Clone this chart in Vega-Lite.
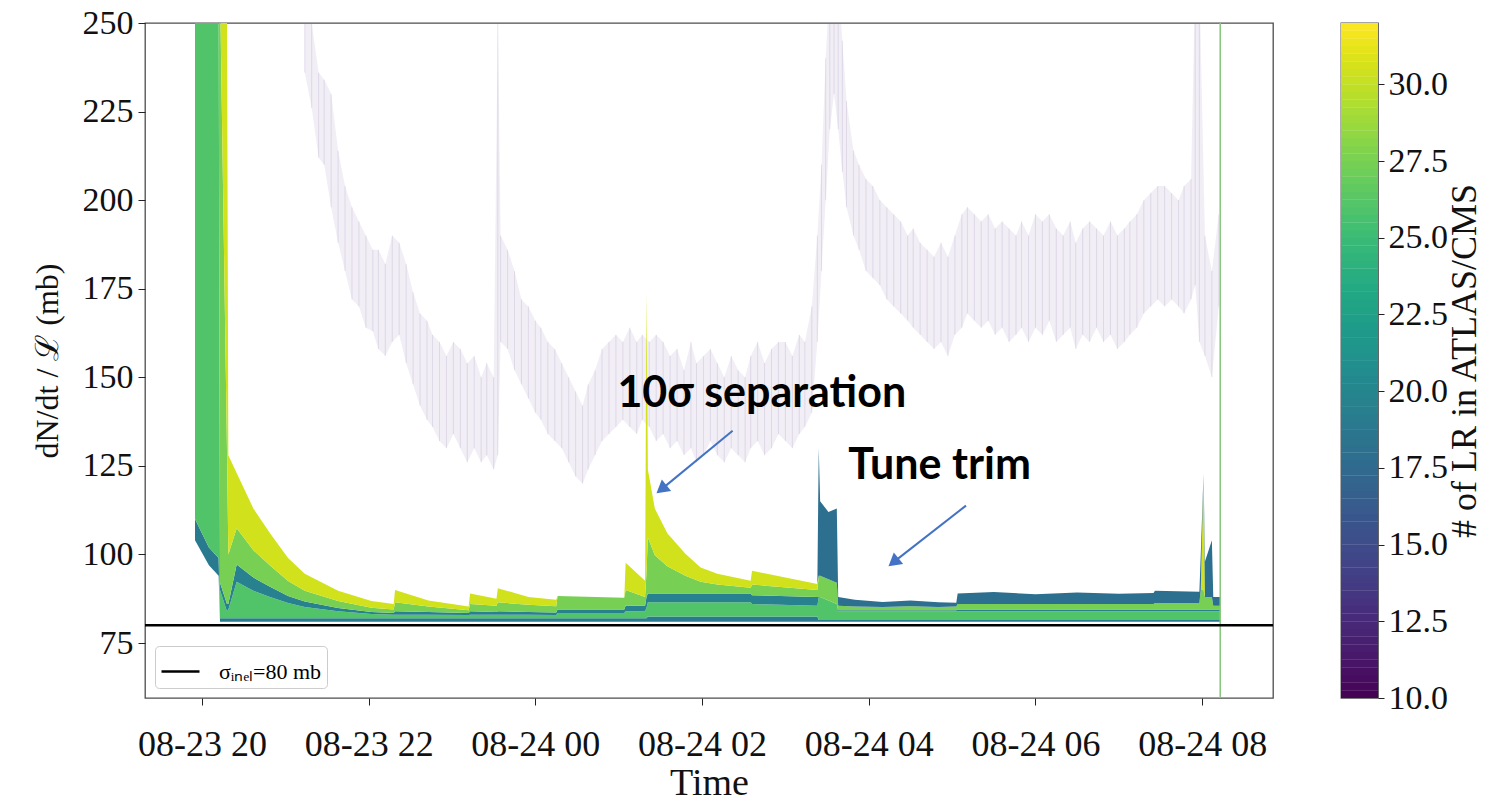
{
  "$schema": "https://vega.github.io/schema/vega-lite/v6.json",
  "background": "white",
  "padding": {"left": 30, "top": 5, "right": 0, "bottom": 0},
  "bounds": "flush",
  "spacing": 68,
  "config": {
    "view": {"stroke": "#4d4d4d", "strokeWidth": 1.3},
    "font": "Liberation Serif",
    "axis": {"grid": false, "domain": false, "tickColor": "#222222", "labelColor": "#111111", "titleColor": "#111111", "labelFont": "Liberation Serif", "titleFont": "Liberation Serif", "titleFontWeight": "normal"}
  },
  "datasets": {
    "band": [
      {"t":"2021-08-23T19:55Z","y0":104,"y1":110,"y2":260,"y3":260,"y4":260,"y5":260,"y6":260},
      {"t":"2021-08-23T20:05Z","y0":97,"y1":102,"y2":260,"y3":260,"y4":260,"y5":260,"y6":260},
      {"t":"2021-08-23T20:12Z","y0":94,"y1":99,"y2":260,"y3":260,"y4":260,"y5":260,"y6":260},
      {"t":"2021-08-23T20:13Z","y0":81,"y1":82,"y2":90,"y3":92,"y4":260,"y5":260,"y6":260},
      {"t":"2021-08-23T20:18Z","y0":81,"y1":82,"y2":84,"y3":86,"y4":130,"y5":260,"y6":260},
      {"t":"2021-08-23T20:19Z","y0":81,"y1":82,"y2":84.5,"y3":86,"y4":100,"y5":128,"y6":128},
      {"t":"2021-08-23T20:25Z","y0":81,"y1":82,"y2":92.3,"y3":97.2,"y4":107.4,"y5":123,"y6":123},
      {"t":"2021-08-23T20:37Z","y0":81,"y1":82,"y2":89.8,"y3":93.5,"y4":101.2,"y5":113,"y6":113},
      {"t":"2021-08-23T20:49Z","y0":81,"y1":82,"y2":88,"y3":90.9,"y4":96.9,"y5":106,"y6":106},
      {"t":"2021-08-23T21:02Z","y0":81,"y1":82,"y2":86.3,"y3":88.3,"y4":92.5,"y5":99,"y6":99},
      {"t":"2021-08-23T21:14Z","y0":81,"y1":82,"y2":85.2,"y3":86.7,"y4":89.8,"y5":94.6,"y6":94.6},
      {"t":"2021-08-23T21:38Z","y0":81,"y1":82,"y2":84,"y3":84.9,"y4":86.9,"y5":89.8,"y6":89.8},
      {"t":"2021-08-23T22:02Z","y0":81,"y1":82,"y2":83.2,"y3":83.8,"y4":85,"y5":86.9,"y6":86.9},
      {"t":"2021-08-23T22:18Z","y0":81,"y1":82,"y2":83,"y3":83.5,"y4":84.5,"y5":86,"y6":86},
      {"t":"2021-08-23T22:19Z","y0":81,"y1":82,"y2":83,"y3":84,"y4":86.5,"y5":90,"y6":90},
      {"t":"2021-08-23T22:43Z","y0":81,"y1":82,"y2":83,"y3":83.8,"y4":85.3,"y5":87,"y6":87},
      {"t":"2021-08-23T23:12Z","y0":81,"y1":82,"y2":82.9,"y3":83.5,"y4":84.3,"y5":85.3,"y6":85.3},
      {"t":"2021-08-23T23:13Z","y0":81,"y1":82,"y2":83,"y3":84,"y4":86,"y5":89,"y6":89},
      {"t":"2021-08-23T23:32Z","y0":81,"y1":82,"y2":83,"y3":83.8,"y4":85.5,"y5":87.5,"y6":87.5},
      {"t":"2021-08-23T23:33Z","y0":81,"y1":82,"y2":83,"y3":84,"y4":86.5,"y5":90.5,"y6":90.5},
      {"t":"2021-08-23T23:55Z","y0":81,"y1":82,"y2":83,"y3":83.8,"y4":85.8,"y5":88,"y6":88},
      {"t":"2021-08-24T00:15Z","y0":81,"y1":82,"y2":82.9,"y3":83.6,"y4":85.4,"y5":87.2,"y6":87.2},
      {"t":"2021-08-24T00:16Z","y0":81,"y1":82,"y2":83.5,"y3":84.5,"y4":88.3,"y5":88.3,"y6":88.3},
      {"t":"2021-08-24T01:04Z","y0":81,"y1":82,"y2":83.5,"y3":84.5,"y4":87.8,"y5":87.8,"y6":87.8},
      {"t":"2021-08-24T01:05Z","y0":81,"y1":82,"y2":84,"y3":85.5,"y4":90,"y5":97.7,"y6":97.7},
      {"t":"2021-08-24T01:19Z","y0":81,"y1":82,"y2":84,"y3":85.5,"y4":88,"y5":92.6,"y6":92.6},
      {"t":"2021-08-24T01:20Z","y0":81,"y1":82,"y2":85,"y3":88,"y4":95,"y5":174,"y6":174},
      {"t":"2021-08-24T01:21Z","y0":81,"y1":82.5,"y2":86.5,"y3":89,"y4":104.8,"y5":124,"y6":124},
      {"t":"2021-08-24T01:26Z","y0":81,"y1":82.5,"y2":86.5,"y3":89,"y4":99.8,"y5":113,"y6":113},
      {"t":"2021-08-24T01:35Z","y0":81,"y1":82.5,"y2":86.5,"y3":89,"y4":96.7,"y5":106,"y6":106},
      {"t":"2021-08-24T01:48Z","y0":81,"y1":82.5,"y2":86.5,"y3":89,"y4":94,"y5":100.2,"y6":100.2},
      {"t":"2021-08-24T01:59Z","y0":81,"y1":82.5,"y2":86.5,"y3":89,"y4":92.3,"y5":96.3,"y6":96.3},
      {"t":"2021-08-24T02:11Z","y0":81,"y1":82.5,"y2":86.5,"y3":89,"y4":91.5,"y5":94.6,"y6":94.6},
      {"t":"2021-08-24T02:35Z","y0":81,"y1":82.5,"y2":86.5,"y3":89,"y4":90.6,"y5":92.6,"y6":92.6},
      {"t":"2021-08-24T02:36Z","y0":81,"y1":82.5,"y2":86,"y3":88.5,"y4":91.5,"y5":95.4,"y6":95.4},
      {"t":"2021-08-24T03:23Z","y0":81,"y1":82.5,"y2":85.5,"y3":88,"y4":90,"y5":91.7,"y6":91.7},
      {"t":"2021-08-24T03:24Z","y0":81,"y1":81.5,"y2":88,"y3":88,"y4":94,"y5":94,"y6":130},
      {"t":"2021-08-24T03:25Z","y0":81,"y1":81.5,"y2":88,"y3":88,"y4":94,"y5":94,"y6":115},
      {"t":"2021-08-24T03:31Z","y0":81,"y1":81.5,"y2":87,"y3":87,"y4":93,"y5":93,"y6":112},
      {"t":"2021-08-24T03:37Z","y0":81,"y1":81.5,"y2":86,"y3":86,"y4":92,"y5":92,"y6":113},
      {"t":"2021-08-24T03:38Z","y0":81,"y1":81.5,"y2":84,"y3":84.3,"y4":85.5,"y5":85.5,"y6":88},
      {"t":"2021-08-24T03:50Z","y0":81,"y1":81.5,"y2":84,"y3":84.3,"y4":85.3,"y5":85.3,"y6":87.2},
      {"t":"2021-08-24T04:10Z","y0":81,"y1":81.5,"y2":84,"y3":84.3,"y4":85.2,"y5":85.2,"y6":86.6},
      {"t":"2021-08-24T04:30Z","y0":81,"y1":81.5,"y2":84,"y3":84.3,"y4":85.4,"y5":85.4,"y6":87},
      {"t":"2021-08-24T04:50Z","y0":81,"y1":81.5,"y2":84,"y3":84.3,"y4":85.2,"y5":85.2,"y6":86.5},
      {"t":"2021-08-24T05:03Z","y0":81,"y1":81.5,"y2":84,"y3":84.3,"y4":85.3,"y5":85.3,"y6":86.4},
      {"t":"2021-08-24T05:04Z","y0":81,"y1":81.5,"y2":84,"y3":84.5,"y4":86,"y5":86,"y6":89},
      {"t":"2021-08-24T05:30Z","y0":81,"y1":81.5,"y2":84,"y3":84.5,"y4":86,"y5":86,"y6":89.4},
      {"t":"2021-08-24T06:00Z","y0":81,"y1":81.5,"y2":84,"y3":84.5,"y4":86,"y5":86,"y6":88.8},
      {"t":"2021-08-24T06:30Z","y0":81,"y1":81.5,"y2":84,"y3":84.5,"y4":86,"y5":86,"y6":89.3},
      {"t":"2021-08-24T07:00Z","y0":81,"y1":81.5,"y2":84,"y3":84.5,"y4":86,"y5":86,"y6":88.9},
      {"t":"2021-08-24T07:25Z","y0":81,"y1":81.5,"y2":84,"y3":84.5,"y4":86,"y5":86,"y6":89.1},
      {"t":"2021-08-24T07:26Z","y0":81,"y1":81.5,"y2":84,"y3":84.5,"y4":86.3,"y5":86.3,"y6":89.8},
      {"t":"2021-08-24T07:58Z","y0":81,"y1":81.5,"y2":84,"y3":84.5,"y4":86.3,"y5":86.3,"y6":89.5},
      {"t":"2021-08-24T07:59Z","y0":81,"y1":81.5,"y2":84,"y3":84.5,"y4":90,"y5":90,"y6":100},
      {"t":"2021-08-24T08:01Z","y0":81,"y1":81.5,"y2":84,"y3":84.5,"y4":90,"y5":123,"y6":123},
      {"t":"2021-08-24T08:02Z","y0":81,"y1":81.5,"y2":84,"y3":84.5,"y4":88,"y5":88,"y6":98},
      {"t":"2021-08-24T08:07Z","y0":81,"y1":81.5,"y2":84,"y3":84.5,"y4":88,"y5":88,"y6":104},
      {"t":"2021-08-24T08:08Z","y0":81,"y1":81.5,"y2":84,"y3":84.5,"y4":85.5,"y5":85.5,"y6":88},
      {"t":"2021-08-24T08:13Z","y0":81,"y1":81.5,"y2":84,"y3":84.5,"y4":85.5,"y5":85.5,"y6":88}
    ],
    "pur": [
      {"t":"2021-08-23T21:14Z","lo":236,"hi":262},
      {"t":"2021-08-23T21:19Z","lo":226,"hi":250},
      {"t":"2021-08-23T21:24Z","lo":212,"hi":236},
      {"t":"2021-08-23T21:28Z","lo":210,"hi":234},
      {"t":"2021-08-23T21:33Z","lo":198,"hi":230},
      {"t":"2021-08-23T21:38Z","lo":188,"hi":214},
      {"t":"2021-08-23T21:43Z","lo":180,"hi":204},
      {"t":"2021-08-23T21:48Z","lo":172,"hi":198},
      {"t":"2021-08-23T21:53Z","lo":170,"hi":194},
      {"t":"2021-08-23T21:58Z","lo":164,"hi":190},
      {"t":"2021-08-23T22:03Z","lo":163,"hi":186},
      {"t":"2021-08-23T22:07Z","lo":158,"hi":186},
      {"t":"2021-08-23T22:12Z","lo":156,"hi":182},
      {"t":"2021-08-23T22:17Z","lo":160,"hi":190},
      {"t":"2021-08-23T22:22Z","lo":162,"hi":188},
      {"t":"2021-08-23T22:27Z","lo":154,"hi":182},
      {"t":"2021-08-23T22:32Z","lo":148,"hi":174},
      {"t":"2021-08-23T22:37Z","lo":142,"hi":168},
      {"t":"2021-08-23T22:42Z","lo":138,"hi":166},
      {"t":"2021-08-23T22:46Z","lo":136,"hi":162},
      {"t":"2021-08-23T22:51Z","lo":132,"hi":160},
      {"t":"2021-08-23T22:56Z","lo":130,"hi":156},
      {"t":"2021-08-23T23:01Z","lo":134,"hi":160},
      {"t":"2021-08-23T23:06Z","lo":130,"hi":158},
      {"t":"2021-08-23T23:11Z","lo":126,"hi":154},
      {"t":"2021-08-23T23:16Z","lo":130,"hi":156},
      {"t":"2021-08-23T23:21Z","lo":126,"hi":150},
      {"t":"2021-08-23T23:25Z","lo":128,"hi":154},
      {"t":"2021-08-23T23:30Z","lo":124,"hi":150},
      {"t":"2021-08-23T23:33Z","lo":128,"hi":250},
      {"t":"2021-08-23T23:35Z","lo":160,"hi":190},
      {"t":"2021-08-23T23:40Z","lo":158,"hi":186},
      {"t":"2021-08-23T23:45Z","lo":152,"hi":180},
      {"t":"2021-08-23T23:50Z","lo":148,"hi":172},
      {"t":"2021-08-23T23:55Z","lo":144,"hi":170},
      {"t":"2021-08-24T00:00Z","lo":140,"hi":166},
      {"t":"2021-08-24T00:04Z","lo":138,"hi":164},
      {"t":"2021-08-24T00:09Z","lo":134,"hi":160},
      {"t":"2021-08-24T00:14Z","lo":132,"hi":158},
      {"t":"2021-08-24T00:19Z","lo":130,"hi":154},
      {"t":"2021-08-24T00:24Z","lo":126,"hi":150},
      {"t":"2021-08-24T00:29Z","lo":122,"hi":146},
      {"t":"2021-08-24T00:34Z","lo":120,"hi":142},
      {"t":"2021-08-24T00:38Z","lo":124,"hi":148},
      {"t":"2021-08-24T00:43Z","lo":128,"hi":152},
      {"t":"2021-08-24T00:48Z","lo":132,"hi":158},
      {"t":"2021-08-24T00:53Z","lo":134,"hi":160},
      {"t":"2021-08-24T00:58Z","lo":136,"hi":162},
      {"t":"2021-08-24T01:03Z","lo":138,"hi":160},
      {"t":"2021-08-24T01:08Z","lo":136,"hi":164},
      {"t":"2021-08-24T01:13Z","lo":134,"hi":160},
      {"t":"2021-08-24T01:17Z","lo":138,"hi":162},
      {"t":"2021-08-24T01:22Z","lo":136,"hi":160},
      {"t":"2021-08-24T01:27Z","lo":132,"hi":162},
      {"t":"2021-08-24T01:32Z","lo":134,"hi":160},
      {"t":"2021-08-24T01:37Z","lo":130,"hi":156},
      {"t":"2021-08-24T01:42Z","lo":132,"hi":158},
      {"t":"2021-08-24T01:47Z","lo":128,"hi":152},
      {"t":"2021-08-24T01:52Z","lo":130,"hi":160},
      {"t":"2021-08-24T01:56Z","lo":126,"hi":154},
      {"t":"2021-08-24T02:01Z","lo":128,"hi":156},
      {"t":"2021-08-24T02:06Z","lo":132,"hi":158},
      {"t":"2021-08-24T02:11Z","lo":128,"hi":154},
      {"t":"2021-08-24T02:16Z","lo":126,"hi":150},
      {"t":"2021-08-24T02:21Z","lo":130,"hi":156},
      {"t":"2021-08-24T02:26Z","lo":128,"hi":152},
      {"t":"2021-08-24T02:31Z","lo":126,"hi":150},
      {"t":"2021-08-24T02:35Z","lo":130,"hi":156},
      {"t":"2021-08-24T02:40Z","lo":132,"hi":160},
      {"t":"2021-08-24T02:45Z","lo":128,"hi":154},
      {"t":"2021-08-24T02:50Z","lo":130,"hi":158},
      {"t":"2021-08-24T02:55Z","lo":134,"hi":160},
      {"t":"2021-08-24T03:00Z","lo":132,"hi":160},
      {"t":"2021-08-24T03:05Z","lo":130,"hi":156},
      {"t":"2021-08-24T03:10Z","lo":134,"hi":162},
      {"t":"2021-08-24T03:14Z","lo":136,"hi":160},
      {"t":"2021-08-24T03:19Z","lo":140,"hi":170},
      {"t":"2021-08-24T03:23Z","lo":160,"hi":190},
      {"t":"2021-08-24T03:26Z","lo":180,"hi":210},
      {"t":"2021-08-24T03:29Z","lo":200,"hi":240},
      {"t":"2021-08-24T03:32Z","lo":220,"hi":262},
      {"t":"2021-08-24T03:35Z","lo":230,"hi":262},
      {"t":"2021-08-24T03:38Z","lo":220,"hi":262},
      {"t":"2021-08-24T03:41Z","lo":208,"hi":245},
      {"t":"2021-08-24T03:44Z","lo":198,"hi":228},
      {"t":"2021-08-24T03:49Z","lo":190,"hi":214},
      {"t":"2021-08-24T03:53Z","lo":186,"hi":210},
      {"t":"2021-08-24T03:58Z","lo":180,"hi":206},
      {"t":"2021-08-24T04:03Z","lo":178,"hi":204},
      {"t":"2021-08-24T04:08Z","lo":176,"hi":200},
      {"t":"2021-08-24T04:13Z","lo":172,"hi":198},
      {"t":"2021-08-24T04:18Z","lo":170,"hi":196},
      {"t":"2021-08-24T04:23Z","lo":168,"hi":194},
      {"t":"2021-08-24T04:28Z","lo":166,"hi":190},
      {"t":"2021-08-24T04:32Z","lo":164,"hi":192},
      {"t":"2021-08-24T04:37Z","lo":162,"hi":188},
      {"t":"2021-08-24T04:42Z","lo":160,"hi":186},
      {"t":"2021-08-24T04:47Z","lo":158,"hi":184},
      {"t":"2021-08-24T04:52Z","lo":160,"hi":188},
      {"t":"2021-08-24T04:57Z","lo":156,"hi":184},
      {"t":"2021-08-24T05:02Z","lo":162,"hi":190},
      {"t":"2021-08-24T05:07Z","lo":164,"hi":196},
      {"t":"2021-08-24T05:11Z","lo":168,"hi":198},
      {"t":"2021-08-24T05:16Z","lo":166,"hi":196},
      {"t":"2021-08-24T05:21Z","lo":164,"hi":194},
      {"t":"2021-08-24T05:26Z","lo":166,"hi":196},
      {"t":"2021-08-24T05:31Z","lo":162,"hi":192},
      {"t":"2021-08-24T05:36Z","lo":164,"hi":194},
      {"t":"2021-08-24T05:41Z","lo":160,"hi":192},
      {"t":"2021-08-24T05:46Z","lo":162,"hi":190},
      {"t":"2021-08-24T05:50Z","lo":164,"hi":194},
      {"t":"2021-08-24T05:55Z","lo":160,"hi":190},
      {"t":"2021-08-24T06:00Z","lo":164,"hi":196},
      {"t":"2021-08-24T06:05Z","lo":162,"hi":194},
      {"t":"2021-08-24T06:10Z","lo":166,"hi":196},
      {"t":"2021-08-24T06:15Z","lo":160,"hi":192},
      {"t":"2021-08-24T06:20Z","lo":162,"hi":190},
      {"t":"2021-08-24T06:25Z","lo":164,"hi":194},
      {"t":"2021-08-24T06:29Z","lo":158,"hi":188},
      {"t":"2021-08-24T06:34Z","lo":162,"hi":192},
      {"t":"2021-08-24T06:39Z","lo":160,"hi":194},
      {"t":"2021-08-24T06:44Z","lo":164,"hi":192},
      {"t":"2021-08-24T06:49Z","lo":160,"hi":190},
      {"t":"2021-08-24T06:54Z","lo":162,"hi":194},
      {"t":"2021-08-24T06:59Z","lo":158,"hi":190},
      {"t":"2021-08-24T07:04Z","lo":160,"hi":192},
      {"t":"2021-08-24T07:08Z","lo":162,"hi":194},
      {"t":"2021-08-24T07:13Z","lo":164,"hi":196},
      {"t":"2021-08-24T07:18Z","lo":168,"hi":200},
      {"t":"2021-08-24T07:23Z","lo":170,"hi":202},
      {"t":"2021-08-24T07:28Z","lo":172,"hi":204},
      {"t":"2021-08-24T07:33Z","lo":170,"hi":204},
      {"t":"2021-08-24T07:38Z","lo":172,"hi":202},
      {"t":"2021-08-24T07:43Z","lo":170,"hi":200},
      {"t":"2021-08-24T07:47Z","lo":168,"hi":204},
      {"t":"2021-08-24T07:52Z","lo":172,"hi":206},
      {"t":"2021-08-24T07:55Z","lo":176,"hi":262},
      {"t":"2021-08-24T07:58Z","lo":160,"hi":262},
      {"t":"2021-08-24T08:02Z","lo":156,"hi":190},
      {"t":"2021-08-24T08:07Z","lo":150,"hi":180},
      {"t":"2021-08-24T08:12Z","lo":170,"hi":196}
    ],
    "cbar": [
      {"v":10.125},{"v":10.375},{"v":10.625},{"v":10.875},{"v":11.125},{"v":11.375},{"v":11.625},{"v":11.875},
      {"v":12.125},{"v":12.375},{"v":12.625},{"v":12.875},{"v":13.125},{"v":13.375},{"v":13.625},{"v":13.875},
      {"v":14.125},{"v":14.375},{"v":14.625},{"v":14.875},{"v":15.125},{"v":15.375},{"v":15.625},{"v":15.875},
      {"v":16.125},{"v":16.375},{"v":16.625},{"v":16.875},{"v":17.125},{"v":17.375},{"v":17.625},{"v":17.875},
      {"v":18.125},{"v":18.375},{"v":18.625},{"v":18.875},{"v":19.125},{"v":19.375},{"v":19.625},{"v":19.875},
      {"v":20.125},{"v":20.375},{"v":20.625},{"v":20.875},{"v":21.125},{"v":21.375},{"v":21.625},{"v":21.875},
      {"v":22.125},{"v":22.375},{"v":22.625},{"v":22.875},{"v":23.125},{"v":23.375},{"v":23.625},{"v":23.875},
      {"v":24.125},{"v":24.375},{"v":24.625},{"v":24.875},{"v":25.125},{"v":25.375},{"v":25.625},{"v":25.875},
      {"v":26.125},{"v":26.375},{"v":26.625},{"v":26.875},{"v":27.125},{"v":27.375},{"v":27.625},{"v":27.875},
      {"v":28.125},{"v":28.375},{"v":28.625},{"v":28.875},{"v":29.125},{"v":29.375},{"v":29.625},{"v":29.875},
      {"v":30.125},{"v":30.375},{"v":30.625},{"v":30.875},{"v":31.125},{"v":31.375},{"v":31.625},{"v":31.875}
    ]
  },
  "resolve": {"scale": {"stroke": "independent"}, "legend": {"stroke": "independent", "color": "independent"}},
  "hconcat": [
    {
      "width": 1128,
      "height": 675,
      "layer": [
        {
          "data": {"name": "pur"},
          "mark": {"type": "area", "clip": true, "color": "#8a72ab", "opacity": 0.12},
          "encoding": {
            "x": {"field": "t", "type": "temporal",
              "scale": {"type": "utc", "domain": [{"year": 2021, "month": 8, "date": 23, "hours": 19, "minutes": 19, "utc": true}, {"year": 2021, "month": 8, "date": 24, "hours": 8, "minutes": 51, "utc": true}]},
              "axis": {
                "values": [
                  {"year": 2021, "month": 8, "date": 23, "hours": 20, "utc": true},
                  {"year": 2021, "month": 8, "date": 23, "hours": 22, "utc": true},
                  {"year": 2021, "month": 8, "date": 24, "hours": 0, "utc": true},
                  {"year": 2021, "month": 8, "date": 24, "hours": 2, "utc": true},
                  {"year": 2021, "month": 8, "date": 24, "hours": 4, "utc": true},
                  {"year": 2021, "month": 8, "date": 24, "hours": 6, "utc": true},
                  {"year": 2021, "month": 8, "date": 24, "hours": 8, "utc": true}
                ],
                "format": "%m-%d %H", "title": "Time", "labelFontSize": 36, "titleFontSize": 38,
                "labelPadding": 22, "tickSize": 7, "labelFlush": false, "labelOverlap": false,
                "titleY": 66, "titleBaseline": "top"
              }
            },
            "y": {"field": "lo", "type": "quantitative",
              "scale": {"domain": [59.5, 250], "nice": false, "zero": false},
              "axis": {"values": [75, 100, 125, 150, 175, 200, 225, 250], "title": "dN/dt / ℒ (mb)",
                "labelFontSize": 34, "titleFontSize": 32, "tickSize": 7, "labelPadding": 5,
                "titleX": -88, "titleBaseline": "alphabetic"}
            },
            "y2": {"field": "hi"}
          }
        },
        {
          "data": {"name": "pur"},
          "mark": {"type": "rule", "clip": true, "color": "#8a72ab", "opacity": 0.18, "strokeWidth": 1},
          "encoding": {
            "x": {"field": "t", "type": "temporal"},
            "y": {"field": "lo", "type": "quantitative"},
            "y2": {"field": "hi"}
          }
        },
        {
          "data": {"name": "band"},
          "mark": {"type": "area", "clip": true},
          "encoding": {
            "x": {"field": "t", "type": "temporal"},
            "y": {"field": "y0", "type": "quantitative"},
            "y2": {"field": "y1"},
            "color": {"datum": 19, "type": "quantitative", "scale": {"scheme": "viridis", "domain": [10, 32]}, "legend": null}
          }
        },
        {
          "data": {"name": "band"},
          "mark": {"type": "area", "clip": true},
          "encoding": {
            "x": {"field": "t", "type": "temporal"},
            "y": {"field": "y1", "type": "quantitative"},
            "y2": {"field": "y2"},
            "color": {"datum": 26, "type": "quantitative", "legend": null}
          }
        },
        {
          "data": {"name": "band"},
          "mark": {"type": "area", "clip": true},
          "encoding": {
            "x": {"field": "t", "type": "temporal"},
            "y": {"field": "y2", "type": "quantitative"},
            "y2": {"field": "y3"},
            "color": {"datum": 19.5, "type": "quantitative", "legend": null}
          }
        },
        {
          "data": {"name": "band"},
          "mark": {"type": "area", "clip": true},
          "encoding": {
            "x": {"field": "t", "type": "temporal"},
            "y": {"field": "y3", "type": "quantitative"},
            "y2": {"field": "y4"},
            "color": {"datum": 27.5, "type": "quantitative", "legend": null}
          }
        },
        {
          "data": {"name": "band"},
          "mark": {"type": "area", "clip": true},
          "encoding": {
            "x": {"field": "t", "type": "temporal"},
            "y": {"field": "y4", "type": "quantitative"},
            "y2": {"field": "y5"},
            "color": {"datum": 30.5, "type": "quantitative", "legend": null}
          }
        },
        {
          "data": {"name": "band"},
          "mark": {"type": "area", "clip": true},
          "encoding": {
            "x": {"field": "t", "type": "temporal"},
            "y": {"field": "y5", "type": "quantitative"},
            "y2": {"field": "y6"},
            "color": {"datum": 18, "type": "quantitative", "legend": null}
          }
        },
        {
          "data": {"values": [{"t": "2021-08-24T08:13Z"}]},
          "mark": {"type": "rule", "color": "#84c77a", "strokeWidth": 1.5},
          "encoding": {"x": {"field": "t", "type": "temporal"}}
        },
        {
          "data": {"values": [{"v": 80, "label": "σᵢₙₑₗ=80 mb"}]},
          "mark": {"type": "rule", "strokeWidth": 2.5},
          "encoding": {
            "y": {"field": "v", "type": "quantitative"},
            "stroke": {"field": "label", "type": "nominal", "scale": {"range": ["black"]},
              "legend": {"title": null, "orient": "bottom-left", "offset": 10, "padding": 5,
                "fillColor": "white", "strokeColor": "#cccccc", "cornerRadius": 4,
                "symbolType": "stroke", "symbolSize": 1444, "symbolStrokeWidth": 2.5,
                "labelFont": "Liberation Serif", "labelFontSize": 22, "labelColor": "black", "labelOffset": 18}}
          }
        },
        {
          "data": {"values": [
            {"t": "2021-08-24T02:22Z", "v": 134.9, "t2": "2021-08-24T01:32Z", "v2": 118.8},
            {"t": "2021-08-24T05:10Z", "v": 113.8, "t2": "2021-08-24T04:19Z", "v2": 98.2}
          ], "format": {"parse": {"t": "date", "t2": "date"}}},
          "mark": {"type": "rule", "color": "#4472c4", "strokeWidth": 2},
          "encoding": {
            "x": {"field": "t", "type": "temporal"},
            "y": {"field": "v", "type": "quantitative"},
            "x2": {"field": "t2"},
            "y2": {"field": "v2"}
          }
        },
        {
          "data": {"values": [
            {"t2": "2021-08-24T01:32Z", "v2": 118.8},
            {"t2": "2021-08-24T04:19Z", "v2": 98.2}
          ]},
          "mark": {"type": "point", "shape": "triangle", "filled": true, "color": "#4472c4", "opacity": 1, "size": 220, "angle": 231},
          "encoding": {
            "x": {"field": "t2", "type": "temporal"},
            "y": {"field": "v2", "type": "quantitative"}
          }
        },
        {
          "data": {"values": [
            {"t": "2021-08-24T02:43Z", "v": 145.3, "txt": "10σ separation"},
            {"t": "2021-08-24T04:51Z", "v": 125, "txt": "Tune trim"}
          ]},
          "mark": {"type": "text", "font": "Lato", "fontWeight": "bold", "fontSize": 43, "color": "black", "align": "center", "baseline": "middle"},
          "encoding": {
            "x": {"field": "t", "type": "temporal"},
            "y": {"field": "v", "type": "quantitative"},
            "text": {"field": "txt"}
          }
        }
      ]
    },
    {
      "width": 37,
      "height": 675,
      "data": {"name": "cbar"},
      "mark": {"type": "rule", "strokeWidth": 8, "clip": true},
      "encoding": {
        "y": {"field": "v", "type": "quantitative",
          "scale": {"domain": [10, 32], "nice": false, "zero": false},
          "axis": {"orient": "right", "values": [10, 12.5, 15, 17.5, 20, 22.5, 25, 27.5, 30], "format": ".1f",
            "title": "# of LR in ATLAS/CMS", "labelFontSize": 34, "titleFontSize": 36, "tickSize": 6, "labelPadding": 4,
            "titleAngle": 270, "titleBaseline": "middle", "titleAlign": "center", "titleX": 86}
        },
        "color": {"field": "v", "type": "quantitative", "scale": {"scheme": "viridis", "domain": [10, 32]}, "legend": null}
      }
    }
  ]
}
